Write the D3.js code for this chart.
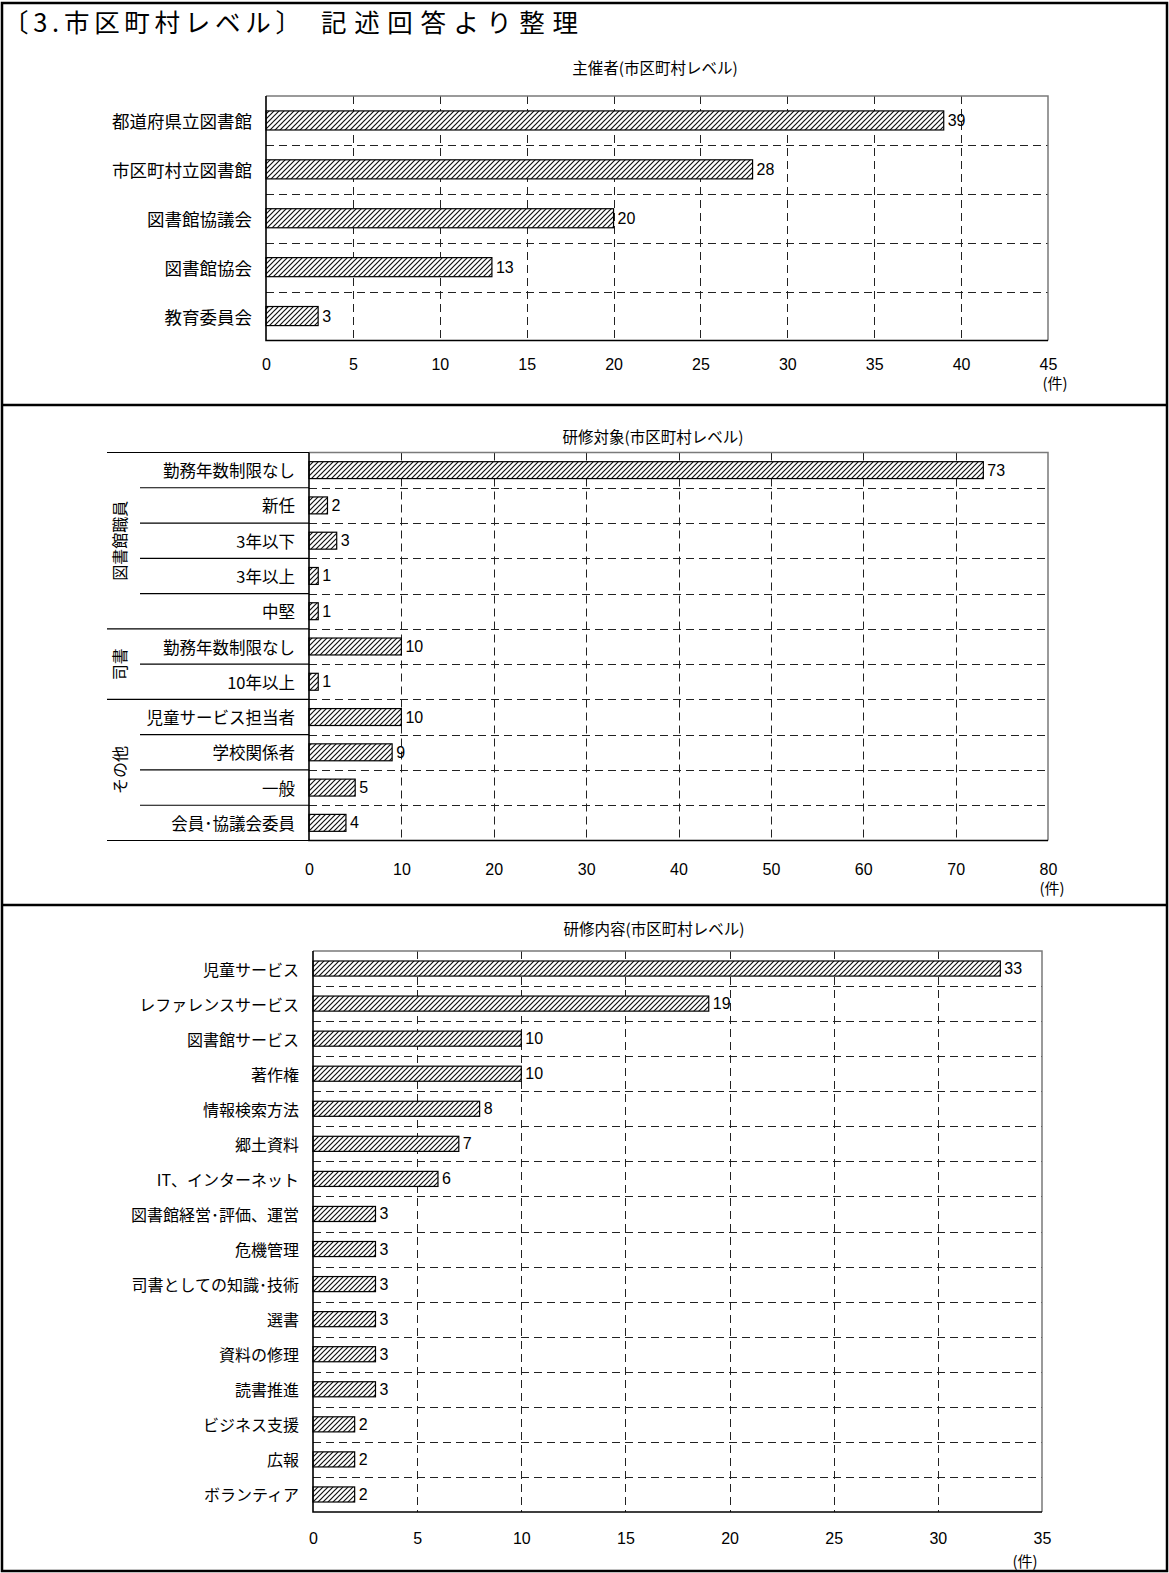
<!DOCTYPE html>
<html><head><meta charset="utf-8">
<script src="https://cdn.jsdelivr.net/npm/d3@7"></script>
<style>
body{margin:0;background:#fff;}
svg text{font-family:"Noto Sans CJK JP","Noto Sans",sans-serif;fill:#000;}
svg text.num{font-family:"Liberation Sans",Arial,sans-serif;}
</style></head><body>
<svg id="c" width="1169" height="1573"></svg>
<script>
// ---------- data ----------
const pageTitle1 = "〔3.市区町村レベル〕";
const pageTitle2 = "記述回答より整理";
const unitLabel = "(件)";

const c1Title = "主催者(市区町村レベル)";
const c1Categories = ["都道府県立図書館","市区町村立図書館","図書館協議会","図書館協会","教育委員会"];
const c1Values = [39,28,20,13,3];
const c1Ticks = [0,5,10,15,20,25,30,35,40,45];

const c2Title = "研修対象(市区町村レベル)";
const c2Groups = ["図書館職員","司書","その他"];
const c2GroupOf = [0,0,0,0,0,1,1,2,2,2,2];
const c2Categories = ["勤務年数制限なし","新任","3年以下","3年以上","中堅","勤務年数制限なし","10年以上","児童サービス担当者","学校関係者","一般","会員･協議会委員"];
const c2Values = [73,2,3,1,1,10,1,10,9,5,4];
const c2Ticks = [0,10,20,30,40,50,60,70,80];

const c3Title = "研修内容(市区町村レベル)";
const c3Categories = ["児童サービス","レファレンスサービス","図書館サービス","著作権","情報検索方法","郷土資料","IT、インターネット","図書館経営･評価、運営","危機管理","司書としての知識･技術","選書","資料の修理","読書推進","ビジネス支援","広報","ボランティア"];
const c3Values = [33,19,10,10,8,7,6,3,3,3,3,3,3,2,2,2];
const c3Ticks = [0,5,10,15,20,25,30,35];

// ---------- drawing ----------
const svg = d3.select("#c");
const defs = svg.append("defs");
const pat = defs.append("pattern").attr("id","hatch").attr("patternUnits","userSpaceOnUse")
  .attr("width",5).attr("height",5);
pat.append("rect").attr("width",5).attr("height",5).attr("fill","#fff");
pat.append("path").attr("d","M-1,1 L1,-1 M0,5 L5,0 M4,6 L6,4")
  .attr("stroke","#111").attr("stroke-width",1.2);

// frame
svg.append("rect").attr("x",2).attr("y",3).attr("width",1165).attr("height",1568)
  .attr("fill","none").attr("stroke","#000").attr("stroke-width",2.5);
[405,905].forEach(yy=>svg.append("line").attr("x1",2).attr("x2",1167).attr("y1",yy).attr("y2",yy)
  .attr("stroke","#000").attr("stroke-width",2.5));

svg.append("text").attr("x",3).attr("y",32).attr("font-size",25.5)
  .attr("textLength",298).attr("lengthAdjust","spacing").text(pageTitle1);
svg.append("text").attr("x",321).attr("y",32).attr("font-size",25.5)
  .attr("textLength",257).attr("lengthAdjust","spacing").text(pageTitle2);

function drawChart(o){
  const g = svg.append("g");
  const n = o.categories.length;
  const x = d3.scaleLinear().domain([0,o.max]).range([o.left,o.right]);
  const y = d3.scaleBand().domain(d3.range(n)).range([o.top,o.bottom])
    .paddingInner(o.pad).paddingOuter(o.pad/2);
  const step = y.step();

  // dashed grid
  const grid = g.append("g").attr("stroke","#222").attr("stroke-width",1).attr("stroke-dasharray","8,5");
  d3.range(1,n).forEach(i=>{
    const yy = Math.round(o.top+i*step)+0.5;
    grid.append("line").attr("x1",o.left).attr("x2",o.right).attr("y1",yy).attr("y2",yy);
  });
  o.ticks.filter(t=>t>0 && t<o.max).forEach(t=>{
    const xx = Math.round(x(t))+0.5;
    grid.append("line").attr("x1",xx).attr("x2",xx).attr("y1",o.top).attr("y2",o.bottom);
  });
  // top & right frame (gray)
  g.append("path").attr("d",`M${o.left},${o.top} H${o.right} V${o.bottom}`)
    .attr("fill","none").attr("stroke","#7a7a7a").attr("stroke-width",1.5);

  // bars
  g.selectAll("rect.bar").data(o.values).join("rect").attr("class","bar")
    .attr("x",x(0)).attr("y",(d,i)=>y(i)).attr("width",d=>x(d)-x(0)).attr("height",y.bandwidth())
    .attr("fill","url(#hatch)").attr("stroke","#000").attr("stroke-width",1.2);
  // value labels
  g.selectAll("text.val").data(o.values).join("text").attr("class","val num")
    .attr("x",d=>x(d)+4).attr("y",(d,i)=>y(i)+y.bandwidth()/2)
    .attr("dominant-baseline","central").attr("font-size",o.valSize).text(d=>d);

  // left & bottom axis lines
  g.append("path").attr("d",`M${o.left},${o.top} V${o.bottom} H${o.right}`)
    .attr("fill","none").attr("stroke","#000").attr("stroke-width",1.6);

  // category labels
  const ya = d3.axisLeft(y).tickSize(0).tickPadding(0).tickFormat(i=>o.categories[i]);
  const yg = g.append("g").attr("transform",`translate(${o.labelRight},0)`).call(ya);
  yg.select(".domain").remove();
  yg.selectAll("text").attr("font-size",o.labelSize).attr("dy",null)
    .attr("dominant-baseline","central").attr("fill","#000")
    .style("font-family",'"Noto Sans CJK JP",sans-serif');

  // tick labels
  const xa = d3.axisBottom(x).tickValues(o.ticks).tickSize(0).tickPadding(0);
  const xg = g.append("g").attr("transform",`translate(0,${o.tickY})`).call(xa);
  xg.select(".domain").remove();
  xg.selectAll("text").attr("y",0).attr("dy",null).attr("dominant-baseline","central")
    .attr("font-size",16).attr("fill","#000").attr("class","num")
    .style("font-family",'"Liberation Sans",Arial,sans-serif');

  // unit
  g.append("text").attr("x",o.unitX).attr("y",o.unitY).attr("text-anchor","middle")
    .attr("dominant-baseline","central").attr("font-size",15).text(unitLabel);
  // title
  g.append("text").attr("x",o.titleX).attr("y",o.titleY).attr("text-anchor","middle")
    .attr("dominant-baseline","central").attr("font-size",15.5).text(o.title);
  return {x,y,step,g};
}

drawChart({title:c1Title,categories:c1Categories,values:c1Values,ticks:c1Ticks,max:45,
  left:266,right:1048,top:96,bottom:340.5,pad:0.61,labelRight:252,labelSize:17.5,valSize:16,
  tickY:364,unitX:1055,unitY:382,titleX:655,titleY:67});

const r2 = drawChart({title:c2Title,categories:c2Categories,values:c2Values,ticks:c2Ticks,max:80,
  left:309,right:1048,top:452.5,bottom:840.5,pad:0.52,labelRight:295,labelSize:16.5,valSize:16,
  tickY:869,unitX:1052,unitY:887,titleX:653,titleY:436});

// chart 2 group structure
(function(){
  const top=452.5, step=r2.step, left=309;
  const lg = r2.g.append("g").attr("stroke","#000").attr("stroke-width",1.2);
  d3.range(0,c2Categories.length+1).forEach(i=>{
    const yy = top+i*step;
    const isGroupEdge = i===0 || i===c2Categories.length || c2GroupOf[i]!==c2GroupOf[i-1];
    lg.append("line").attr("x1",isGroupEdge?107:140).attr("x2",left).attr("y1",yy).attr("y2",yy);
  });
  c2Groups.forEach((name,k)=>{
    const idx = c2GroupOf.map((gk,i)=>gk===k?i:-1).filter(i=>i>=0);
    const cy = top + (d3.min(idx)+d3.max(idx)+1)/2*step;
    r2.g.append("text").attr("transform",`translate(119,${cy}) rotate(-90)`)
      .attr("text-anchor","middle").attr("dominant-baseline","central")
      .attr("font-size",16).text(name);
  });
})();

drawChart({title:c3Title,categories:c3Categories,values:c3Values,ticks:c3Ticks,max:35,
  left:313,right:1042,top:951,bottom:1512,pad:0.57,labelRight:299,labelSize:16,valSize:16,
  tickY:1538,unitX:1025,unitY:1560,titleX:654,titleY:928});
</script>
</body></html>
